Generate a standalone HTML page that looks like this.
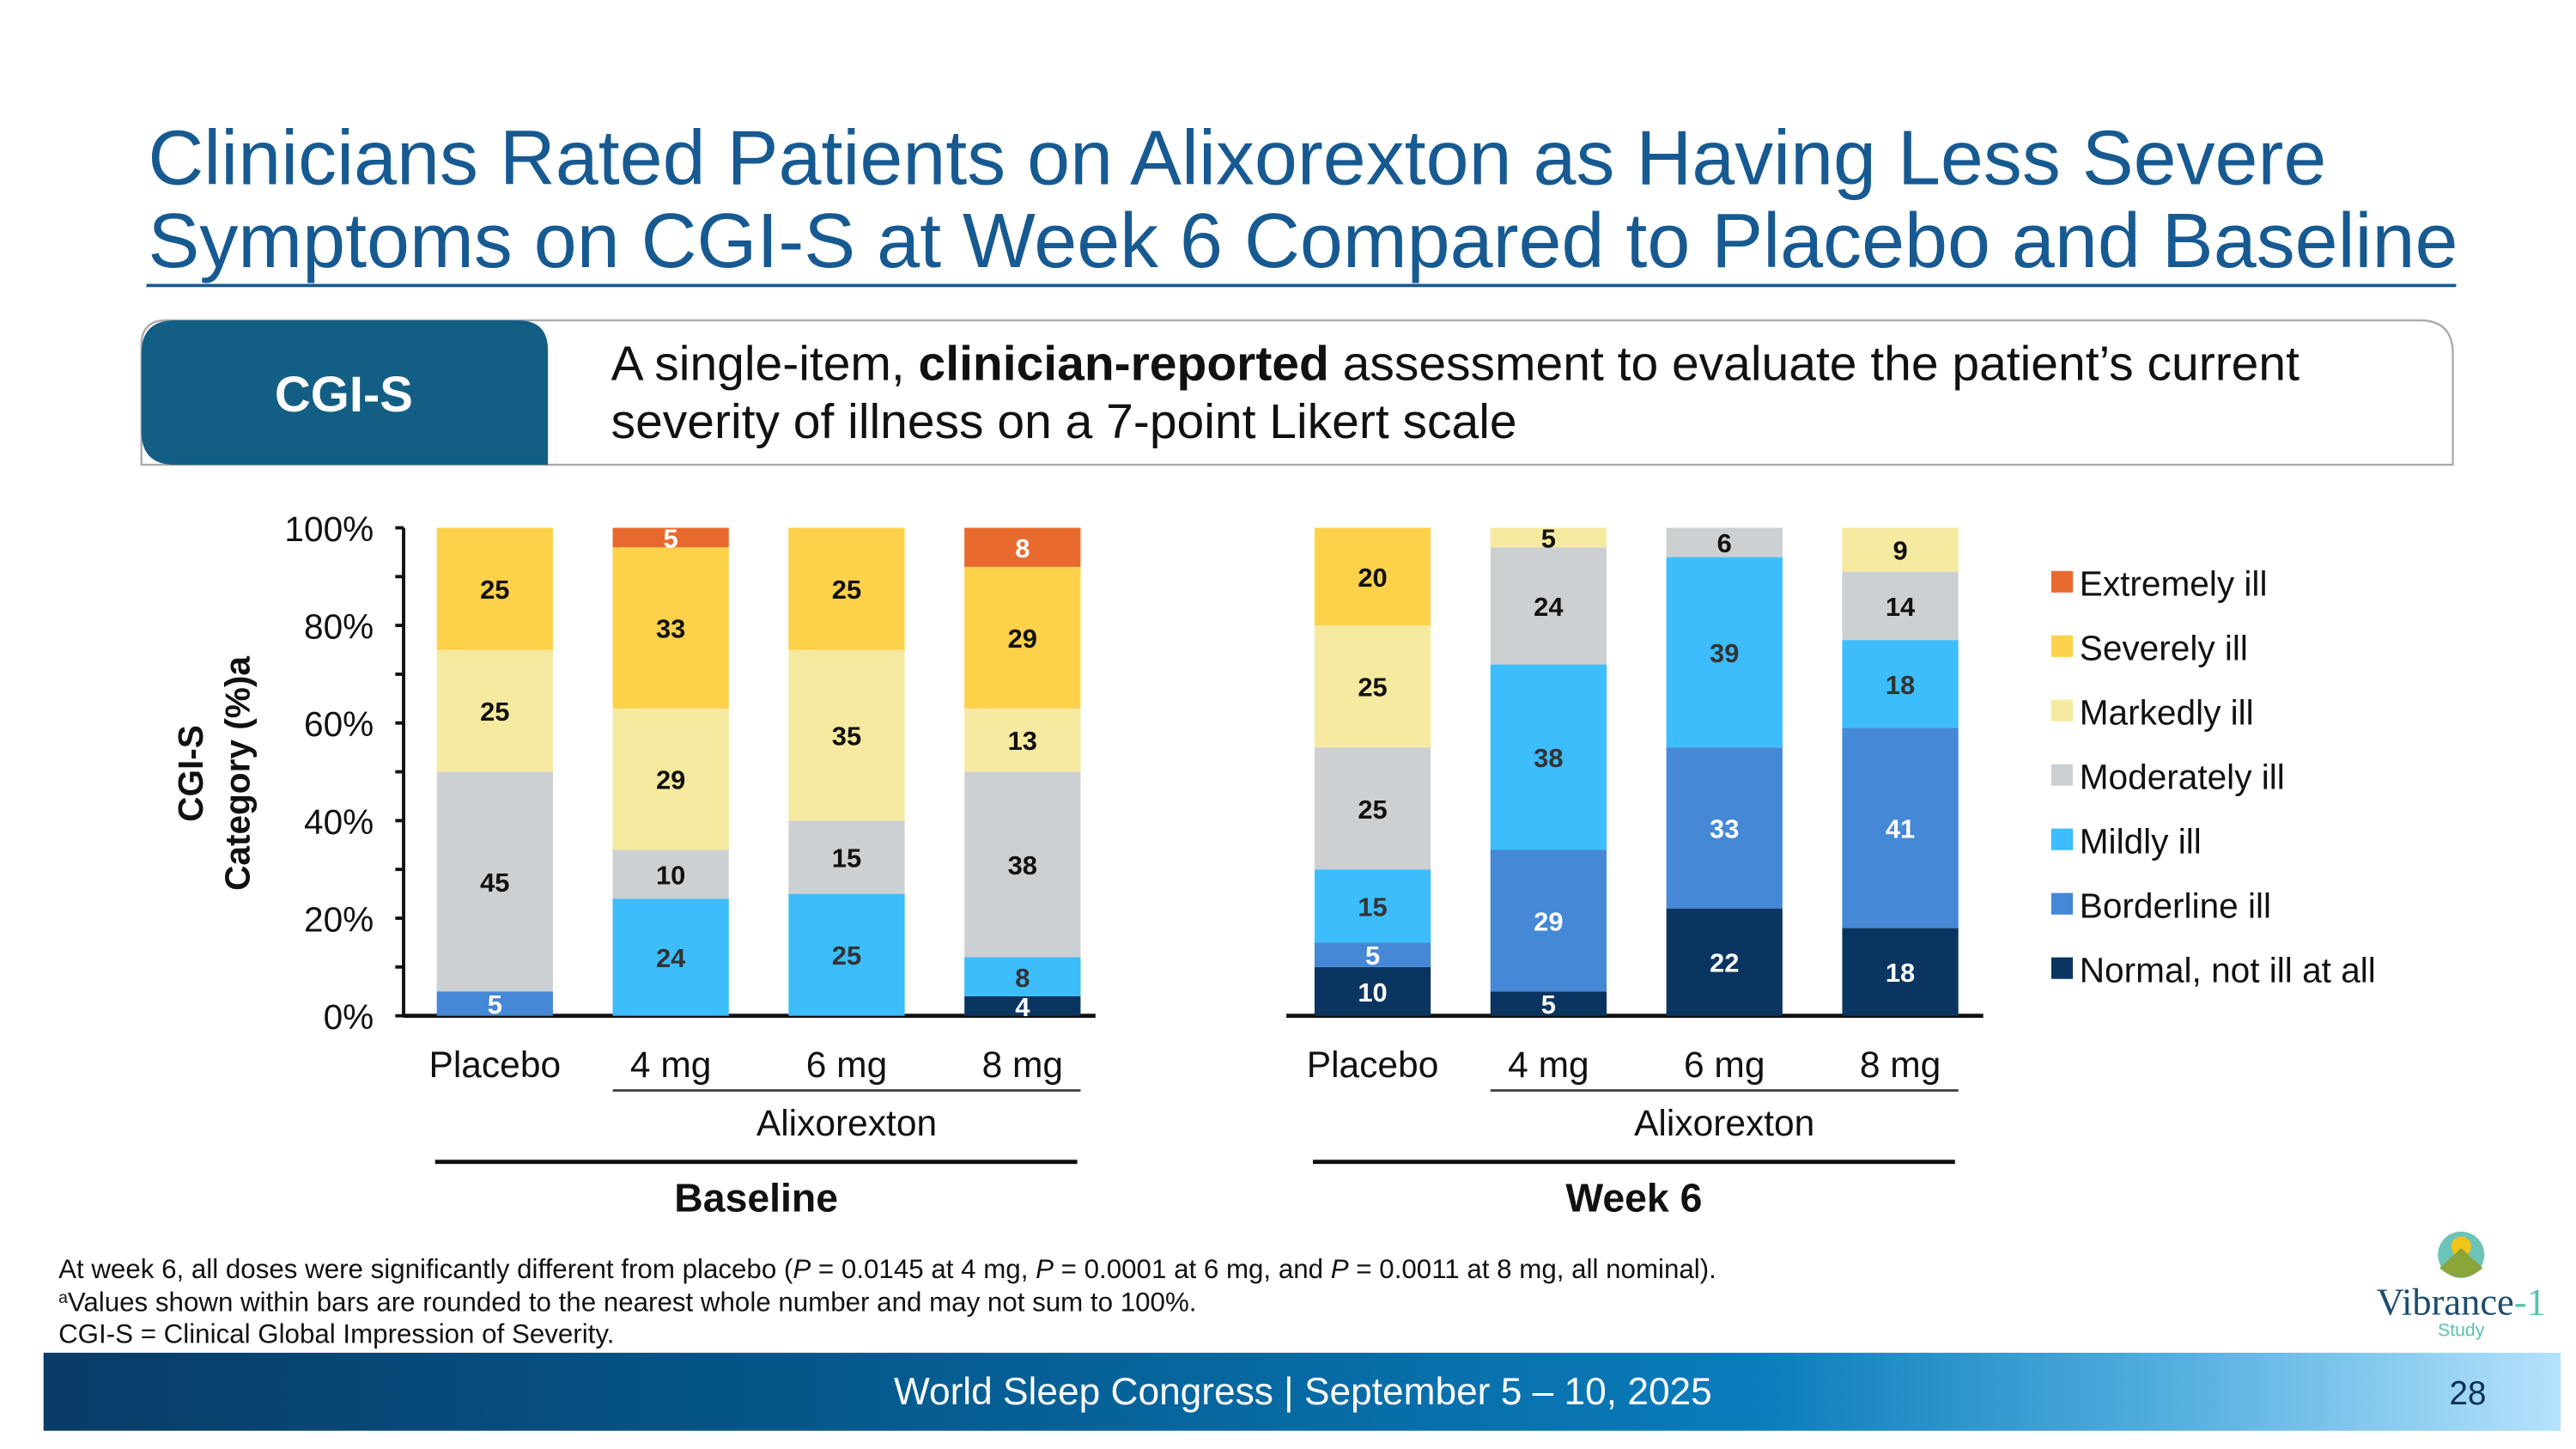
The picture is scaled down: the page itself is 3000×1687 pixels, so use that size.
<!DOCTYPE html>
<html><head><meta charset="utf-8"><style>
html,body{margin:0;padding:0;background:#fff;}
svg{display:block;font-family:"Liberation Sans",sans-serif;}
</style></head><body>
<svg id="chart" width="3000" height="1687" viewBox="0 0 1552 873" xmlns="http://www.w3.org/2000/svg">
<rect width="1552" height="873" fill="#fff"/>
<g fill="#175a92" font-size="46.5">
<text x="89" y="111">Clinicians Rated Patients on Alixorexton as Having Less Severe</text>
<text x="89" y="161">Symptoms on CGI-S at Week 6 Compared to Placebo and Baseline</text>
</g>
<line x1="88" y1="172" x2="1480" y2="172" stroke="#175a92" stroke-width="2"/>
<g>
<path d="M100,193 H1458 Q1478,193 1478,213 V280 H85 V208 Q85,193 100,193 Z" fill="#fff" stroke="#aaa" stroke-width="1.2"/>
<path d="M105,193 H312 Q330,193 330,211 V280 H105 Q85,280 85,260 V213 Q85,193 105,193 Z" fill="#135e85"/>
<text x="207" y="248" fill="#fff" font-size="30" font-weight="bold" text-anchor="middle">CGI-S</text>
<text x="368" y="229" font-size="29.5" fill="#111">A single-item, <tspan font-weight="bold">clinician-reported</tspan> assessment to evaluate the patient’s current</text>
<text x="368" y="264" font-size="29.5" fill="#111">severity of illness on a 7-point Likert scale</text>
</g>
<g id="plot"></g>
<g font-size="21" font-weight="bold" fill="#111" text-anchor="middle">
<text transform="translate(122,466) rotate(-90)">CGI-S</text>
<text transform="translate(150,466) rotate(-90)">Category (%)a</text>
</g>
<g font-size="16.2" fill="#111">
<text x="35" y="770">At week 6, all doses were significantly different from placebo (<tspan font-style="italic">P</tspan> = 0.0145 at 4 mg, <tspan font-style="italic">P</tspan> = 0.0001 at 6 mg, and <tspan font-style="italic">P</tspan> = 0.0011 at 8 mg, all nominal).</text>
<text x="35" y="790"><tspan font-size="10" dy="-5">a</tspan><tspan dy="5">Values shown within bars are rounded to the nearest whole number and may not sum to 100%.</tspan></text>
<text x="35" y="809">CGI-S = Clinical Global Impression of Severity.</text>
</g>
<defs><linearGradient id="fg" x1="0" x2="1"><stop offset="0" stop-color="#093c67"/><stop offset="0.3" stop-color="#04578a"/><stop offset="0.68" stop-color="#0a7cbb"/><stop offset="0.85" stop-color="#55b0e0"/><stop offset="1" stop-color="#b5e2fc"/></linearGradient></defs>
<rect x="26" y="815" width="1517" height="47" fill="url(#fg)"/>
<text x="785" y="846" font-size="22.9" fill="#fff" text-anchor="middle">World Sleep Congress | September 5 – 10, 2025</text>
<text x="1487" y="846" font-size="20" fill="#0b2f52" text-anchor="middle">28</text>
<g>
<circle cx="1483" cy="756" r="14" fill="#6cc4b8"/>
<circle cx="1483" cy="751" r="6" fill="#f2c318"/>
<path d="M1470,764 L1483,752 L1496,764 Q1483,775 1470,764Z" fill="#8aa53a"/>
<text x="1483" y="792" font-family="Liberation Serif,serif" font-size="23" fill="#1d4d6e" text-anchor="middle">Vibrance<tspan fill="#5bbfb0">-1</tspan></text>
<text x="1483" y="805" font-size="11" fill="#5bbfb0" text-anchor="middle">Study</text>
</g>
</svg>
<script>
const categories = ["Placebo","4 mg","6 mg","8 mg"];
const seriesNames = ["Normal, not ill at all","Borderline ill","Mildly ill","Moderately ill","Markedly ill","Severely ill","Extremely ill"];
const seriesColors = ["#0b3561","#4488d6","#3dbdfb","#cdd0d3","#f6eaa0","#fdd14a","#e8692d"];
const labelColors = ["#fff","#fff","#333","#111","#111","#111","#fff"];
const baselineValues = [[0,5,0,45,25,25,0],[0,0,24,10,29,33,5],[0,0,25,15,35,25,0],[4,0,8,38,13,29,8]];
const week6Values = [[10,5,15,25,25,20,0],[5,29,38,24,5,0,0],[22,33,39,6,0,0,0],[18,41,18,14,9,0,0]];
const yTicks = [0,20,40,60,80,100];
const yTickLabels = ["0%","20%","40%","60%","80%","100%"];
const NS="http://www.w3.org/2000/svg";
const plot=document.getElementById('plot');
function mk(tag,attrs,parent){const e=document.createElementNS(NS,tag);for(const k in attrs)e.setAttribute(k,attrs[k]);(parent||plot).appendChild(e);return e;}
const Y0=612,Y100=318;
function y(v){return Y0-(Math.min(v,100)/100)*(Y0-Y100);}
const ax=mk('line',{x1:243,y1:Y100,x2:243,y2:Y0,stroke:'#111','stroke-width':2});


for(let v=0;v<=100;v+=10){mk('line',{x1:238,y1:y(v),x2:243,y2:y(v),stroke:'#111','stroke-width':2});}
yTicks.forEach((v,i)=>{const t=mk('text',{x:225,y:y(v)+8,'font-size':21,'text-anchor':'end',fill:'#111'});t.textContent=yTickLabels[i];

});
function group(values,centers,axX1,axX2,lineX1,lineX2,groupName,underX1,underX2){
  const xl=mk('line',{x1:axX1,y1:Y0,x2:axX2,y2:Y0,stroke:'#111','stroke-width':2.5});
  
  
  values.forEach((vals,ci)=>{
    const cx=centers[ci];let cum=0;
    vals.forEach((v,si)=>{
      if(v<=0)return;
      const top=y(cum+v),bot=y(cum);
      const r=mk('rect',{x:cx-35,y:top,width:70,height:bot-top,fill:seriesColors[si]});
      
      
      const mid=(top+bot)/2;
      const t=mk('text',{x:cx,y:Math.min(mid+6,Y0+3),'font-size':16,'font-weight':'bold','text-anchor':'middle',fill:labelColors[si]});
      t.textContent=v;
      
      
      cum+=v;
    });
    const c=mk('text',{x:cx,y:649,'font-size':22,'text-anchor':'middle',fill:'#111'});c.textContent=categories[ci];
    
    
  });
  mk('line',{x1:underX1,y1:657,x2:underX2,y2:657,stroke:'#444','stroke-width':1.5});
  const a=mk('text',{x:(underX1+underX2)/2,y:684,'font-size':22,'text-anchor':'middle',fill:'#111'});a.textContent='Alixorexton';
  
  
  mk('line',{x1:lineX1,y1:700,x2:lineX2,y2:700,stroke:'#111','stroke-width':2.5});
  const g=mk('text',{x:(lineX1+lineX2)/2,y:730,'font-size':24,'font-weight':'bold','text-anchor':'middle',fill:'#111'});g.textContent=groupName;
  
  
}
group(baselineValues,[298,404,510,616],243,660,262,649,'Baseline',369,651);
group(week6Values,[827,933,1039,1145],775,1195,791,1178,'Week 6',898,1180);
seriesNames.slice().reverse().forEach((n,i)=>{
  const si=seriesNames.length-1-i;const yy=351+i*38.8;
  const s=mk('rect',{x:1236,y:yy-7,width:13,height:13,fill:seriesColors[si]});
  
  
  const t=mk('text',{x:1253,y:yy+8,'font-size':21,fill:'#111'});t.textContent=n;
  
  
});
</script>
</body></html>
